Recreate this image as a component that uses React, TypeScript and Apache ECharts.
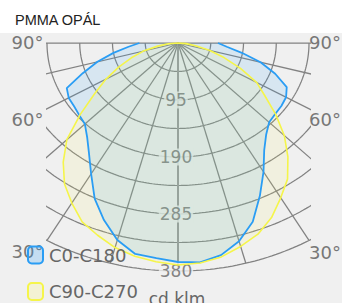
import React, { useEffect, useRef } from "react";
import * as echarts from "echarts";

// ---- data ----
const title = "PMMA OPÁL";
const unitLabel = "cd klm";
const seriesNames = ["C0-C180", "C90-C270"];
// gamma angles, measured from nadir (down)
const angles = [0, 5, 10, 15, 20, 25, 30, 35, 40, 45, 50, 55, 60, 65, 70, 75, 80, 85, 90];
// C0 plane (right half) and C180 plane (left half)
const c0 = [365, 367, 359, 342, 317, 281, 248, 218, 199, 187, 184, 183, 181, 174, 150, 124, 94, 71, 58];
const c180 = [365, 360, 357, 340, 314, 286, 252, 225, 205, 191, 187, 184, 183, 178, 147, 121, 95, 72, 56];
// C90 plane (right half) and C270 plane (left half)
const c90 = [370, 368, 362, 351, 339, 321, 298, 277, 248, 218, 185, 154, 132, 100, 71, 47, 26, 12, 0];
const c270 = [370, 366, 361, 353, 341, 329, 308, 287, 259, 228, 185, 148, 121, 95, 72, 52, 30, 14, 0];
// radial axis
const radialMax = 380;
const ringStep = 47.5;
const radialTicks = [95, 190, 285, 380];
// angular grid
const spokeStep = 15;
const angleTickLabels = ["90°", "60°", "30°"];

const FONT = "DejaVu Sans";

function toXY(r: number, deg: number): [number, number] {
  const a = (deg * Math.PI) / 180;
  return [r * Math.sin(a), -r * Math.cos(a)];
}

function curve(left: number[], right: number[]): [number, number][] {
  const pts: [number, number][] = [];
  for (let i = angles.length - 1; i >= 0; i--) pts.push(toXY(left[i], -angles[i]));
  for (let i = 1; i < angles.length; i++) pts.push(toXY(right[i], angles[i]));
  return pts;
}

export default function App() {
  const ref = useRef<HTMLDivElement>(null);

  useEffect(() => {
    if (!ref.current) return;
    const chart = echarts.init(ref.current, null, { renderer: "svg" });

    const gridColor = "#828282";
    const series: any[] = [];

    // rings
    const nRings = Math.round(radialMax / ringStep);
    for (let k = 1; k <= nRings; k++) {
      const r = k * ringStep;
      const pts: [number, number][] = [];
      for (let d = -90; d <= 90; d += 1) pts.push(toXY(r, d));
      series.push({
        type: "line",
        data: pts,
        symbol: "none",
        silent: true,
        z: 1,
        lineStyle: { color: gridColor, width: 1.25 },
      });
    }
    // spokes
    for (let d = -90; d <= 90; d += spokeStep) {
      series.push({
        type: "line",
        data: [[0, 0], toXY(radialMax, d)],
        symbol: "none",
        silent: true,
        z: 1,
        lineStyle: d === 0 ? { color: "#999", width: 2 } : { color: gridColor, width: 1.25 },
      });
    }
    // radial tick labels
    series.push({
      type: "scatter",
      data: radialTicks.map((v) => [0, -v, v]),
      symbolSize: 1,
      silent: true,
      z: 2,
      itemStyle: { color: "transparent" },
      label: {
        show: true,
        position: "inside",
        offset: [-2, 0],
        formatter: (p: any) => String(p.value[2]),
        fontFamily: FONT,
        fontSize: 17,
        color: "#666",
        backgroundColor: "#f0f0f0",
        padding: [0, 1],
      },
    });

    // data series
    series.push({
      name: seriesNames[0],
      type: "line",
      data: curve(c180, c0),
      symbol: "none",
      z: 3,
      lineStyle: { color: "#2a9df4", width: 1.8 },
      areaStyle: { color: "rgba(42,157,244,0.18)" },
    });
    series.push({
      name: seriesNames[1],
      type: "line",
      data: curve(c270, c90),
      symbol: "none",
      z: 3,
      lineStyle: { color: "#f5f54a", width: 1.6 },
      areaStyle: { color: "rgba(255,250,100,0.16)" },
    });

    const labelStyle = (text: string, x: number, y: number) => ({
      type: "text",
      x,
      y,
      style: {
        text,
        fontFamily: FONT,
        fontSize: 18,
        fill: "#777",
        align: "center",
        verticalAlign: "middle",
      },
    });

    const angleY = [42.5, 119.5, 251.5];

    chart.setOption({
      animation: false,
      backgroundColor: "#f0f0f0",
      grid: { left: 47, right: 33, top: 40.6, bottom: 29.6 },
      xAxis: { type: "value", min: -190, max: 190, show: false },
      yAxis: { type: "value", min: -384, max: 4, show: false },
      legend: {
        orient: "vertical",
        left: 27,
        top: 245.5,
        padding: 0,
        itemWidth: 15,
        itemHeight: 17,
        itemGap: 17.5,
        icon: "roundRect",
        textStyle: { fontFamily: FONT, fontSize: 18, color: "#666", padding: [0, 0, 0, 1] },
        data: [
          {
            name: seriesNames[0],
            itemStyle: { color: "rgba(42,157,244,0.22)", borderColor: "#2a9df4", borderWidth: 2 },
          },
          {
            name: seriesNames[1],
            itemStyle: { color: "rgba(255,250,100,0.2)", borderColor: "#f5f54a", borderWidth: 2 },
          },
        ],
      },
      graphic: [
        { type: "rect", shape: { x: 0, y: 0, width: 342, height: 33 }, style: { fill: "#ffffff" } },
        {
          type: "text",
          x: 15,
          y: 20,
          style: {
            text: title,
            fontFamily: "Liberation Sans, Arial, sans-serif",
            fontSize: 14.5,
            fill: "#222",
            verticalAlign: "middle",
          },
        },
        ...angleTickLabels.map((t, i) => labelStyle(t, 27.5, angleY[i])),
        ...angleTickLabels.map((t, i) => labelStyle(t, 325, angleY[i] + (i === 2 ? 0.5 : 0))),
        {
          type: "text",
          x: 177,
          y: 299,
          style: {
            text: unitLabel,
            fontFamily: FONT,
            fontSize: 17,
            fill: "#666",
            align: "center",
            verticalAlign: "middle",
          },
        },
      ],
      series,
    });

    return () => chart.dispose();
  }, []);

  return (
    <div
      ref={ref}
      style={{ position: "fixed", left: 0, top: 0, width: 342, height: 303 }}
    />
  );
}
